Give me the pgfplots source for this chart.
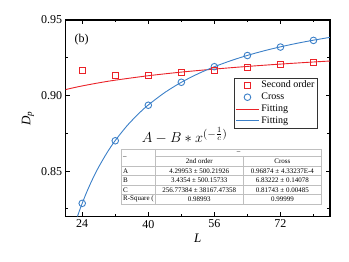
\documentclass[border=0pt]{standalone}
\usepackage{pgfplots}
\pgfplotsset{compat=1.18}
\usepackage{fontspec}
\setmainfont{Liberation Serif}
\definecolor{myred}{RGB}{234,34,40}
\definecolor{myblue}{RGB}{60,128,200}
\begin{document}
\begin{tikzpicture}
\path[use as bounding box] (0pt,0pt) rectangle (349pt,262pt);
\begin{axis}[
  at={(65.7pt,45.5pt)}, anchor=south west,
  scale only axis, width=264.3pt, height=196.5pt,
  xmin=20, xmax=84, ymin=0.82, ymax=0.95,
  xtick={24,40,56,72}, minor xtick={32,48,64,80},
  ytick={0.85,0.90,0.95}, minor ytick={0.825,0.875,0.925},
  tick align=inside,
  major tick length=4pt, minor tick length=2.5pt,
  tick style={black, line width=0.9pt},
  axis line style={line width=1.1pt},
  /pgf/number format/assume math mode=true,
  yticklabel style={/pgf/number format/.cd, fixed, fixed zerofill, precision=2},
  ticklabel style={font=\fontsize{12}{14}\selectfont},
  xlabel={\itshape L}, ylabel={{\itshape D}\textsubscript{\itshape p}},
  xlabel style={font=\fontsize{13}{15}\selectfont, at={(axis description cs:0.5,-0.109)}, anchor=center},
  ylabel style={font=\fontsize{13}{15}\selectfont, at={(axis description cs:-0.143,0.5)}, anchor=center},
  legend style={at={(axis description cs:0.9535,0.706)}, anchor=north east,
    font=\fontsize{10}{12}\selectfont, draw=black!80, line width=0.5pt,
    inner sep=1pt, row sep=-0.3pt, cells={anchor=west}},
  legend image code/.code={\draw[mark repeat=2,mark phase=2] plot coordinates {(0pt,0pt) (11.5pt,0pt) (23pt,0pt)};},
]
\addlegendimage{only marks, mark=square, mark size=3pt, color=myred, line width=0.9pt}
\addlegendentry{Second order}
\addlegendimage{only marks, mark=o, mark size=3.3pt, color=myblue, line width=0.9pt}
\addlegendentry{Cross}
\addlegendimage{color=myred, line width=0.9pt}
\addlegendentry{Fitting}
\addlegendimage{color=myblue, line width=0.9pt}
\addlegendentry{Fitting}
\addplot[color=myred, line width=0.9pt, smooth, forget plot] coordinates {
(20,0.90398) (22,0.90524) (24,0.90639) (28,0.90842) (32,0.91019) (40,0.91313)
(48,0.91553) (56,0.91752) (64,0.91928) (72,0.92083) (80,0.92222) (84,0.92286)};
\addplot[color=myblue, line width=0.9pt, smooth, forget plot] coordinates {
(22.84,0.82) (23.4,0.82435) (24,0.82874) (25,0.83557) (26,0.84180) (27,0.84753) (28,0.85280)
(30,0.86218) (32,0.87027) (35,0.88049) (38,0.88894) (40,0.89379) (44,0.90204)
(48,0.90878) (52,0.91437) (56,0.91908) (60,0.92310) (64,0.92658) (68,0.92959)
(72,0.93224) (76,0.93458) (80,0.93665) (84,0.93851)};
\addplot[color=myblue, only marks, mark=o, mark size=3.3pt, line width=0.9pt, forget plot] coordinates {
(24,0.8287) (32,0.8701) (40,0.8936) (48,0.9088) (56,0.9191) (64,0.9265) (72,0.9321) (80,0.9365)};
\addplot[color=myred, only marks, mark=square, mark size=3pt, line width=0.9pt, forget plot] coordinates {
(24,0.9164) (32,0.9131) (40,0.9134) (48,0.9154) (56,0.9169) (64,0.9187) (72,0.9207) (80,0.9222)};
\end{axis}
% panel label
\node[font=\fontsize{12}{14}\selectfont] at (81.7pt,222pt) {(b)};
% formula
\node[anchor=base west, inner sep=0pt, font=\fontsize{15.5}{18}\selectfont] at (141.7pt,119.5pt) {$A - B \ast x^{(-\frac{1}{c})}$};
% table
\fill[white] (121.5pt,113pt) rectangle (321.7pt,58pt);
\begin{scope}[draw=black!25, line width=0.5pt]
\draw (121.5pt,113pt) rectangle (321.7pt,58pt);
\draw (155.5pt,113pt) -- (155.5pt,58pt);
\draw (243pt,106pt) -- (243pt,58pt);
\draw (155.5pt,106pt) -- (321.7pt,106pt);
\draw (121.5pt,95.5pt) -- (321.7pt,95.5pt);
\draw (121.5pt,86.3pt) -- (321.7pt,86.3pt);
\draw (121.5pt,77pt) -- (321.7pt,77pt);
\draw (121.5pt,67.5pt) -- (321.7pt,67.5pt);
\end{scope}
\begin{scope}[every node/.style={font=\fontsize{7}{8}\selectfont, inner sep=0pt}]
\node[anchor=west] at (123pt,104pt) {--};
\node at (238.6pt,109.5pt) {--};
\node at (199.3pt,100.5pt) {2nd order};
\node at (282.4pt,100.5pt) {Cross};
\node[anchor=west] at (123pt,90.9pt) {A};
\node[anchor=west] at (123pt,81.65pt) {B};
\node[anchor=west] at (123pt,72.25pt) {C};
\node[anchor=west] at (123pt,62.75pt) {R-Square (};
\node at (199.3pt,90.9pt) {4.29953 ± 500.21926};
\node at (199.3pt,81.65pt) {3.4354 ± 500.15733};
\node at (199.3pt,72.25pt) {256.77384 ± 38167.47358};
\node at (199.3pt,62.75pt) {0.98993};
\node at (282.4pt,90.9pt) {0.96874 ± 4.33237E-4};
\node at (282.4pt,81.65pt) {6.83222 ± 0.14078};
\node at (282.4pt,72.25pt) {0.81743 ± 0.00485};
\node at (282.4pt,62.75pt) {0.99999};
\end{scope}
\end{tikzpicture}
\end{document}
